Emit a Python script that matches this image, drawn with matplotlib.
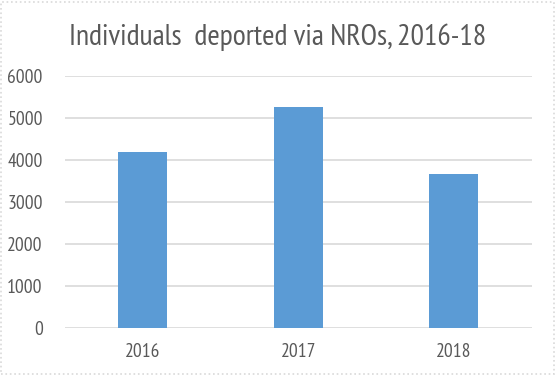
import matplotlib.pyplot as plt
from matplotlib.patches import Rectangle

# Data
years = ['2016', '2017', '2018']
deported = [4185, 5255, 3660]
y_ticks = [0, 1000, 2000, 3000, 4000, 5000, 6000]

BAR_COLOR = '#5B9BD5'
TEXT_COLOR = '#595959'
GRID_COLOR = '#D9D9D9'
FONT = ['PT Sans Narrow', 'Roboto Condensed', 'DejaVu Sans']


def draw_chart(output_image):
    plt.rcParams['font.family'] = FONT
    fig = plt.figure(figsize=(5.56, 3.75), dpi=100)
    ax = fig.add_axes([0.1169, 0.1261, 0.8394, 0.672])

    ax.bar(range(len(years)), deported, width=0.315, color=BAR_COLOR, zorder=3)
    ax.set_xlim(-0.5, len(years) - 0.5)
    ax.set_ylim(0, 6000)
    ax.set_yticks(y_ticks)
    ax.set_xticks(range(len(years)))
    ax.set_xticklabels(years)

    ax.grid(axis='y', color=GRID_COLOR, linewidth=1.2, zorder=0)
    for side in ['left', 'right', 'top', 'bottom']:
        ax.spines[side].set_visible(False)
    ax.tick_params(axis='both', length=0, labelsize=14, colors=TEXT_COLOR)
    ax.tick_params(axis='y', pad=16)
    ax.tick_params(axis='x', pad=11)

    fig.text(0.5, 0.88, 'Individuals  deported via NROs, 2016-18',
             ha='center', va='baseline', fontsize=21.5, color=TEXT_COLOR)

    # light outer chart border
    fig.patches.append(Rectangle((0.002, 0.003), 0.995, 0.993, transform=fig.transFigure,
                                 fill=False, edgecolor=GRID_COLOR, linewidth=1.2, linestyle=':'))
    fig.savefig(output_image, dpi=100)
    plt.close(fig)


def main():
    draw_chart('out.png')


if __name__ == "__main__":
    main()
